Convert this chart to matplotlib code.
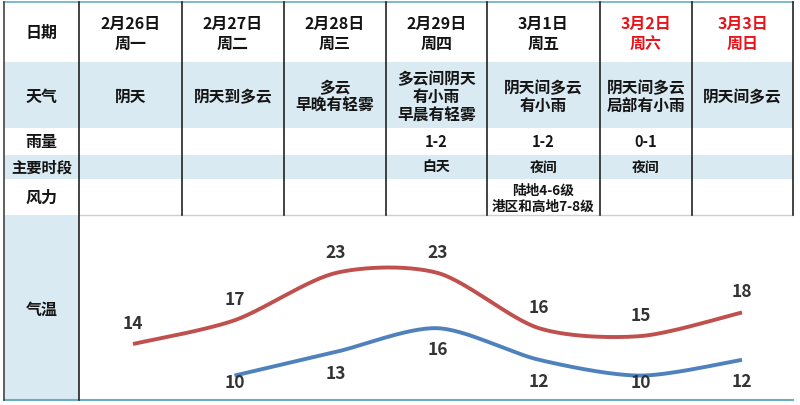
import matplotlib
matplotlib.use("Agg")
import matplotlib.pyplot as plt
from matplotlib.patches import Rectangle
import numpy as np

plt.rcParams['font.family'] = ['Noto Sans CJK SC', 'DejaVu Sans']

# ---------------- data ----------------
row_labels = ['日期', '天气', '雨量', '主要时段', '风力', '气温']
dates = ['2月26日', '2月27日', '2月28日', '2月29日', '3月1日', '3月2日', '3月3日']
weekdays = ['周一', '周二', '周三', '周四', '周五', '周六', '周日']
weather = ['阴天', '阴天到多云', '多云\n早晚有轻雾', '多云间阴天\n有小雨\n早晨有轻雾',
           '阴天间多云\n有小雨', '阴天间多云\n局部有小雨', '阴天间多云']
rain = ['', '', '', '1-2', '1-2', '0-1', '']
period = ['', '', '', '白天', '夜间', '夜间', '']
wind = ['', '', '', '', '陆地4-6级\n港区和高地7-8级', '', '']
high = [14, 17, 23, 23, 16, 15, 18]
low = [None, 10, 13, 16, 12, 10, 12]

# ---------------- layout ----------------
W, H = 800, 406
fig = plt.figure(figsize=(W / 100, H / 100), dpi=100)
tab = fig.add_axes([0, 0, 1, 1])
tab.set_xlim(0, W)
tab.set_ylim(H, 0)
tab.axis('off')

LEFT, LAB = 4, 79
cols = [79, 182, 284, 386, 487, 600, 692, 793]
RIGHT = cols[-1]
rows = [3, 63, 129, 156, 180, 216, 401]  # header, weather, rain, period, wind, temp
BLUE = '#daeaf2'
TXT = '#141414'
RED = '#e8141c'
TEAL = '#6aaec4'

# row backgrounds
for r in (1, 3):
    tab.add_patch(Rectangle((LEFT, rows[r]), RIGHT - LEFT, rows[r + 1] - rows[r],
                            facecolor=BLUE, edgecolor='none', zorder=0))
tab.add_patch(Rectangle((LEFT, rows[5]), LAB - LEFT, rows[6] - rows[5],
                        facecolor=BLUE, edgecolor='none', zorder=0))

# lines
tab.plot([LEFT, RIGHT], [rows[0], rows[0]], color=TEAL, lw=1.2, zorder=3)
tab.plot([LEFT, RIGHT], [rows[6], rows[6]], color=TEAL, lw=1.5, zorder=3)
tab.plot([LAB, RIGHT], [rows[5], rows[5]], color='#cfcfcf', lw=1.0, zorder=3)
tab.plot([LEFT, LEFT], [rows[0], rows[6]], color='#444444', lw=1.2, zorder=3)
tab.plot([LAB, LAB], [rows[0], rows[6]], color='#222222', lw=1.2, zorder=3)
for x in cols[1:]:
    tab.plot([x, x], [rows[0], rows[5]], color='#222222', lw=1.2, zorder=3)

# label column text
lab_y = [33, 97, 142, 168, 198, 310]
lab_fs = [11.5, 11.5, 11.5, 11, 11.5, 11.5]
for lbl, y, fs in zip(row_labels, lab_y, lab_fs):
    tab.text((LEFT + LAB) / 2, y, lbl, ha='center', va='center', fontsize=fs,
             fontweight='bold', color=TXT)

# day columns
for i in range(7):
    cx = (cols[i] + cols[i + 1]) / 2
    c = RED if weekdays[i] in ('周六', '周日') else TXT
    tab.text(cx, 34, dates[i] + '\n' + weekdays[i], ha='center', va='center',
             fontsize=11.5, fontweight='bold', color=c, linespacing=1.25)
    tab.text(cx, 97, weather[i], ha='center', va='center', fontsize=11.3,
             fontweight='bold', color=TXT, linespacing=1.18)
    tab.text(cx, 142, rain[i], ha='center', va='center', fontsize=10.5,
             fontweight='bold', color=TXT)
    tab.text(cx, 168, period[i], ha='center', va='center', fontsize=10,
             fontweight='bold', color=TXT)
    tab.text(cx, 199, wind[i], ha='center', va='center', fontsize=9.8,
             fontweight='bold', color=TXT, linespacing=1.2)

# ---------------- temperature chart ----------------
PX0, PXSTEP = 133, 101.5
T0, T0PX, PXDEG = 14, 345, 7.9
cx0, cx1, cy0, cy1 = 80, 793, 218, 400
ax = fig.add_axes([cx0 / W, (H - cy1) / H, (cx1 - cx0) / W, (cy1 - cy0) / H])
ax.set_xlim((cx0 - PX0) / PXSTEP, (cx1 - PX0) / PXSTEP)
ax.set_ylim(T0 - (cy1 - T0PX) / PXDEG, T0 + (T0PX - cy0) / PXDEG)
ax.axis('off')
ax.patch.set_alpha(0)


def smooth(xs, ys, n=30, k=0.14):
    xs = np.asarray(xs, float)
    ys = np.asarray(ys, float)
    px = np.concatenate([[xs[0]], xs, [xs[-1]]])
    py = np.concatenate([[ys[0]], ys, [ys[-1]]])
    ox, oy = [], []
    t = np.linspace(0, 1, n)
    for j in range(1, len(px) - 2):
        p0, p1, p2, p3 = [np.array([px[m], py[m]]) for m in (j - 1, j, j + 1, j + 2)]
        c1 = p1 + (p2 - p0) * k
        c2 = p2 - (p3 - p1) * k
        b = ((1 - t) ** 3)[:, None] * p1 + (3 * (1 - t) ** 2 * t)[:, None] * c1 \
            + (3 * (1 - t) * t ** 2)[:, None] * c2 + (t ** 3)[:, None] * p2
        ox.extend(b[:, 0])
        oy.extend(b[:, 1])
    return ox, oy


hx = [i for i, v in enumerate(high) if v is not None]
hy = [high[i] for i in hx]
lx = [i for i, v in enumerate(low) if v is not None]
ly = [low[i] for i in lx]

sx, sy = smooth(hx, hy)
ax.plot(sx, sy, color='#c0504d', lw=2.8, solid_capstyle='butt')
sx, sy = smooth(lx, ly)
ax.plot(sx, sy, color='#4f81bd', lw=2.8, solid_capstyle='butt')

LBL = '#333333'
for x, v in zip(hx, hy):
    ax.annotate(str(v), (x, v), xytext=(0, 21), textcoords='offset pixels',
                ha='center', va='center', fontsize=12.5, color=LBL, fontweight='bold')
for x, v in zip(lx, ly):
    ppx = T0PX - PXDEG * (v - T0)
    off = min(21, 383 - ppx)
    ax.annotate(str(v), (x, v), xytext=(0, -off), textcoords='offset pixels',
                ha='center', va='center', fontsize=12.5, color=LBL, fontweight='bold')

fig.savefig('out.png', dpi=100, facecolor='white')
